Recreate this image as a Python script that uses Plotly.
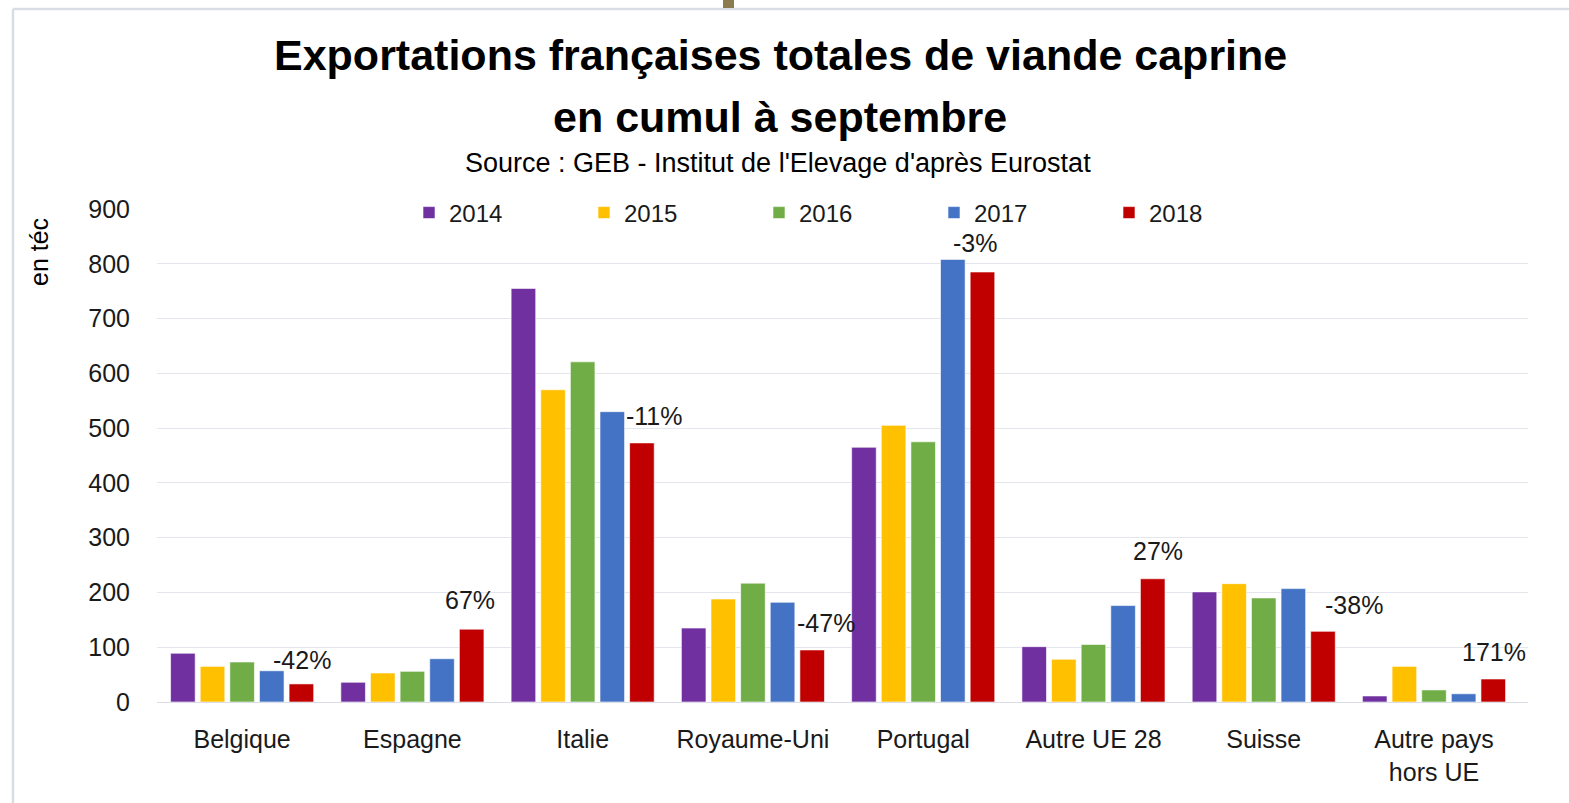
import plotly.graph_objects as go

categories = ["Belgique", "Espagne", "Italie", "Royaume-Uni", "Portugal",
              "Autre UE 28", "Suisse", "Autre pays<br>hors UE"]
years = ["2014", "2015", "2016", "2017", "2018"]
v2014 = [89, 36, 755, 135, 465, 101, 201, 11]
v2015 = [65, 53, 570, 188, 505, 78, 216, 65]
v2016 = [73, 56, 621, 217, 475, 105, 190, 22]
v2017 = [57, 79, 530, 182, 808, 176, 207, 15]
v2018 = [33, 133, 473, 95, 785, 225, 129, 42]
pct_labels = ["-42%", "67%", "-11%", "-47%", "-3%", "27%", "-38%", "171%"]
pct_y = [76, 187, 522, 144, 838, 275, 177, 91]
pct_shift = [60, 58, 72, 73, 52, 65, 90, 60]
yticks = [0, 100, 200, 300, 400, 500, 600, 700, 800, 900]

colors = ["#7030A0", "#FFC000", "#70AD47", "#4472C4", "#C00000"]
series = [v2014, v2015, v2016, v2017, v2018]

FONT = "Liberation Sans, Arial, sans-serif"

W, H = 1569, 803
L, R, T, B = 157, 41, 209, 101
PW, PH = W - L - R, H - T - B


def px(x):
    return (x - L) / PW


def py(y):
    return (H - B - y) / PH


fig = go.Figure()
for name, vals, c in zip(years, series, colors):
    fig.add_trace(go.Bar(x=categories, y=vals, name=name, marker_color=c,
                         marker_line=dict(color="rgba(255,255,255,0.6)", width=1)))

for cat, lab, yy, sh in zip(categories, pct_labels, pct_y, pct_shift):
    fig.add_annotation(x=cat, y=yy, text=lab, showarrow=False, xshift=sh,
                       font=dict(family=FONT, size=25, color="#1a1a1a"))

fig.update_layout(
    width=W, height=H,
    paper_bgcolor="white", plot_bgcolor="white",
    margin=dict(l=L, r=R, t=T, b=B),
    barmode="group", bargap=0.13, bargroupgap=0.17,
    showlegend=True,
    legend=dict(orientation="h", x=px(409), y=py(213), xanchor="left", yanchor="middle",
                font=dict(family=FONT, size=24, color="#1a1a1a"),
                itemwidth=30, bgcolor="rgba(0,0,0,0)",
                entrywidth=130, entrywidthmode="pixels"),
    font=dict(family=FONT, color="#1a1a1a"),
    xaxis=dict(showgrid=False, showline=True, linecolor="#DADDE5", linewidth=1,
               tickfont=dict(family=FONT, size=25, color="#1a1a1a"), ticks="",
               ticklabelstandoff=15),
    yaxis=dict(range=[0, 900], tickvals=yticks, showgrid=True, gridcolor="#E3E6EC",
               gridwidth=1, zeroline=False, showline=False,
               tickfont=dict(family=FONT, size=25, color="#1a1a1a"), ticks="",
               ticklabelstandoff=26),
)

fig.add_annotation(xref="paper", yref="paper", x=px(780), y=py(55),
                   text="<b>Exportations françaises totales de viande caprine</b>",
                   showarrow=False, font=dict(family=FONT, size=43, color="black"),
                   xanchor="center", yanchor="middle")
fig.add_annotation(xref="paper", yref="paper", x=px(780), y=py(117),
                   text="<b>en cumul à septembre</b>",
                   showarrow=False, font=dict(family=FONT, size=43, color="black"),
                   xanchor="center", yanchor="middle")
fig.add_annotation(xref="paper", yref="paper", x=px(778), y=py(163),
                   text="Source : GEB - Institut de l'Elevage d'après Eurostat",
                   showarrow=False, font=dict(family=FONT, size=27, color="black"),
                   xanchor="center", yanchor="middle")
fig.add_annotation(xref="paper", yref="paper", x=px(39), y=py(252),
                   text="en téc", textangle=-90,
                   showarrow=False, font=dict(family=FONT, size=25, color="black"),
                   xanchor="center", yanchor="middle")

# frame and decorative tab
fig.add_shape(type="line", xref="paper", yref="paper",
              x0=px(13), x1=px(W), y0=py(9), y1=py(9),
              line=dict(color="#D8DDE5", width=2.5))
fig.add_shape(type="line", xref="paper", yref="paper",
              x0=px(13), x1=px(13), y0=py(9), y1=py(H),
              line=dict(color="#D8DDE5", width=2.5))
fig.add_shape(type="rect", xref="paper", yref="paper",
              x0=px(723), x1=px(734), y0=py(8), y1=py(0),
              line=dict(width=0), fillcolor="#8C7B4F")

fig.write_html("out.html", config={"displayModeBar": False},
               post_script="document.body.style.margin='0';document.body.style.overflow='hidden';")
